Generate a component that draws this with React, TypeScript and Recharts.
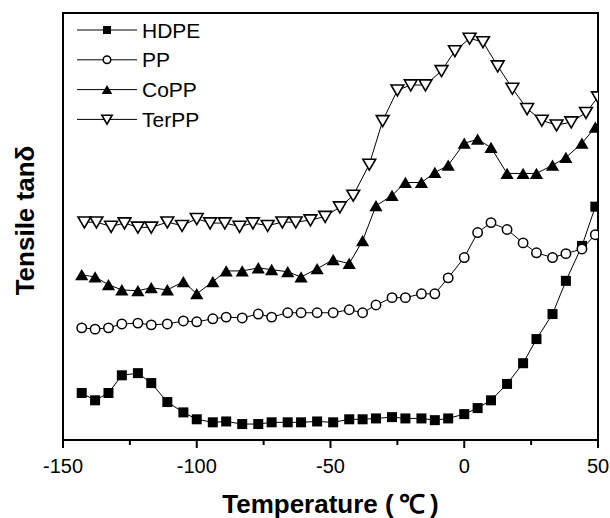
import { LineChart, Line, XAxis, YAxis, Legend, ReferenceArea } from 'recharts';

// temperature grid (°C) shared by HDPE, PP and CoPP
const temps = [
  -143, -138, -133, -128, -122, -117, -111, -105, -100, -94, -89, -83, -77, -72, -66, -61, -55, -49,
  -43, -38, -33, -27, -22, -16, -11, -6, 0, 5, 10, 16, 22, 27, 33, 38, 44, 49,
];
// TerPP was sampled on a slightly different grid
const terTemps = [
  -142, -137.5, -132, -127, -122, -117, -111, -105.5, -100, -95, -89.5, -84, -79, -73.5, -68, -63,
  -57.5, -52, -46.5, -41.5, -35.5, -30.5, -25, -20, -14.5, -8.5, -3.5, 2, 7, 12.5, 18, 23.5, 29,
  34.5, 40, 45.5, 50,
];

// tan delta, arbitrary units (curves are offset vertically)
const hdpe = [
  11.9, 10.2, 11.9, 16.0, 16.5, 14.2, 9.8, 7.4, 5.8, 5.1, 5.3, 4.7, 4.7, 5.1, 5.1, 5.1, 5.3, 5.1,
  5.8, 5.8, 6.0, 6.3, 6.0, 6.0, 5.6, 6.0, 7.0, 8.4, 10.2, 14.0, 18.8, 24.4, 30.2, 37.9, 46.0, 55.1,
];
const pp = [
  27.0, 26.7, 27.0, 27.9, 28.1, 27.7, 27.9, 28.6, 28.4, 29.1, 29.5, 29.3, 30.2, 29.5, 30.5, 30.5,
  30.5, 30.5, 31.2, 30.5, 32.3, 34.0, 34.0, 34.9, 34.9, 38.6, 43.3, 49.1, 51.4, 49.8, 46.7, 44.4,
  43.3, 44.2, 45.3, 48.6,
];
const copp = [
  39.3, 38.8, 37.0, 35.8, 35.6, 36.3, 35.8, 37.7, 34.9, 37.7, 40.2, 40.2, 40.9, 40.5, 40.0, 38.8,
  40.7, 42.8, 41.9, 47.2, 55.3, 57.7, 60.7, 60.7, 63.0, 64.7, 69.8, 70.7, 68.8, 62.8, 62.8, 62.8,
  64.7, 66.5, 69.8, 73.5,
];
const terpp = [
  51.5, 51.5, 50.5, 51.3, 50.3, 50.3, 51.5, 50.7, 52.3, 51.3, 51.3, 50.5, 51.3, 50.7, 51.5, 51.5,
  52.0, 52.8, 55.0, 57.7, 64.9, 75.0, 82.1, 83.3, 83.3, 86.6, 91.2, 94.1, 93.3, 87.7, 82.5, 77.8,
  75.1, 74.0, 74.7, 76.9, 80.5,
];

const xTicks = [-150, -125, -100, -75, -50, -25, 0, 25, 50];
const majorTicks = [-150, -100, -50, 0, 50];

const FONT = '"Liberation Sans", Arial, sans-serif';

type Kind = 'square' | 'circle' | 'up' | 'down';

const series: { name: string; kind: Kind; temps: number[]; values: number[] }[] = [
  { name: 'HDPE', kind: 'square', temps, values: hdpe },
  { name: 'PP', kind: 'circle', temps, values: pp },
  { name: 'CoPP', kind: 'up', temps, values: copp },
  { name: 'TerPP', kind: 'down', temps: terTemps, values: terpp },
];

function Marker({ kind, cx, cy, s = 1 }: { kind: Kind; cx: number; cy: number; s?: number }) {
  if (kind === 'square') {
    return <rect x={cx - 5 * s} y={cy - 5 * s} width={10 * s} height={10 * s} fill="#000" />;
  }
  if (kind === 'circle') {
    return <circle cx={cx} cy={cy} r={4.7 * s} fill="#fff" stroke="#000" strokeWidth={1.5} />;
  }
  if (kind === 'up') {
    const pts = `${cx},${cy - 5.8 * s} ${cx - 6.6 * s},${cy + 5.5 * s} ${cx + 6.6 * s},${cy + 5.5 * s}`;
    return <polygon points={pts} fill="#000" />;
  }
  const pts = `${cx - 6.4 * s},${cy - 5.2 * s} ${cx + 6.4 * s},${cy - 5.2 * s} ${cx},${cy + 5.8 * s}`;
  return <polygon points={pts} fill="#fff" stroke="#000" strokeWidth={1.6} strokeLinejoin="miter" />;
}

function dotFor(kind: Kind) {
  return (p: any) => {
    if (p.cx == null || p.cy == null) return <g key={p.index} />;
    return (
      <g key={p.index}>
        <Marker kind={kind} cx={p.cx} cy={p.cy} />
      </g>
    );
  };
}

function XTick(props: any) {
  const { x, y, payload } = props;
  const major = majorTicks.includes(payload.value);
  return (
    <g>
      <line x1={x} x2={x} y1={y} y2={y + (major ? 8 : 5)} stroke="#000" strokeWidth={2} />
      {major && (
        <text x={x} y={y + 33} textAnchor="middle" fontSize={20} fontFamily={FONT} fill="#000">
          {payload.value}
        </text>
      )}
    </g>
  );
}

function LegendBox() {
  return (
    <svg width={140} height={125}>
      {series.map((s, i) => {
        const cy = 18 + i * 29.8;
        return (
          <g key={s.name}>
            <line x1={7} x2={67} y1={cy} y2={cy} stroke="#000" strokeWidth={1} />
            <Marker kind={s.kind} cx={37} cy={cy} s={0.8} />
            <text x={72} y={cy + 7.5} fontSize={21} fontFamily={FONT} fill="#000">
              {s.name}
            </text>
          </g>
        );
      })}
    </svg>
  );
}

export default function App() {
  return (
    <div style={{ position: 'fixed', left: 0, top: 0, background: '#fff' }}>
      <LineChart width={610} height={518} margin={{ top: 13, right: 12, bottom: 0, left: 0 }}>
        <XAxis
          type="number"
          dataKey="t"
          domain={[-150, 50]}
          ticks={xTicks}
          interval={0}
          allowDataOverflow
          height={78}
          tickSize={0}
          tickMargin={0}
          tickLine={false}
          tick={<XTick />}
          axisLine={{ stroke: '#000', strokeWidth: 2 }}
          label={({ viewBox }: any) => (
            <text
              x={viewBox.x + viewBox.width / 2}
              y={viewBox.y + 73}
              textAnchor="middle"
              fontSize={26}
              fontWeight="bold"
              fontFamily={FONT}
              fill="#000"
            >
              Temperature (&#8201;℃&#8201;)
            </text>
          )}
        />
        <YAxis
          type="number"
          domain={[1, 100]}
          allowDataOverflow
          width={63}
          tick={false}
          tickLine={false}
          axisLine={{ stroke: '#000', strokeWidth: 2 }}
          label={({ viewBox }: any) => {
            const cx = viewBox.x + 25;
            const cy = viewBox.y + viewBox.height / 2 - 6;
            return (
              <text
                x={cx}
                y={cy}
                transform={`rotate(-90 ${cx} ${cy})`}
                textAnchor="middle"
                dominantBaseline="central"
                fontSize={26}
                fontWeight="bold"
                fontFamily={FONT}
                fill="#000"
              >
                Tensile tanδ
              </text>
            );
          }}
        />
        <ReferenceArea
          x1={-150}
          x2={50}
          y1={1}
          y2={100}
          fill="none"
          fillOpacity={0}
          stroke="#000"
          strokeWidth={2}
          strokeOpacity={1}
        />
        <Legend
          layout="horizontal"
          align="center"
          verticalAlign="middle"
          wrapperStyle={{ left: 70, top: 12, width: 140, height: 125 }}
          content={() => <LegendBox />}
        />
        {series.map((s) => (
          <Line
            key={s.name}
            name={s.name}
            data={s.temps.map((t, i) => ({ t, v: s.values[i] }))}
            dataKey="v"
            type="linear"
            stroke="#000"
            strokeWidth={1}
            dot={dotFor(s.kind)}
            activeDot={false}
            legendType="none"
            isAnimationActive={false}
          />
        ))}
      </LineChart>
    </div>
  );
}
